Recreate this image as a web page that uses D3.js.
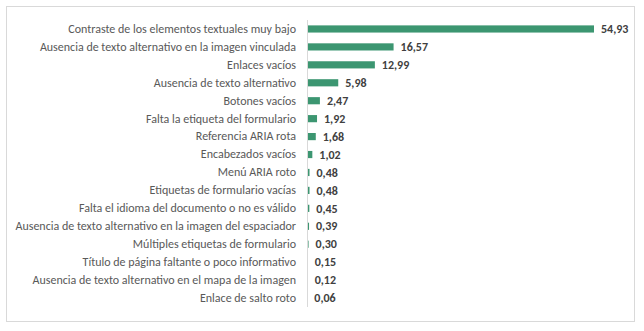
<!DOCTYPE html>
<html><head><meta charset="utf-8">
<script src="https://cdn.jsdelivr.net/npm/d3@7"></script>
<style>
body{margin:0;background:#fff;}
svg{display:block;}
</style></head>
<body><svg id="c" width="644" height="331"></svg>
<script>
const categories = [
 "Contraste de los elementos textuales muy bajo",
 "Ausencia de texto alternativo en la imagen vinculada",
 "Enlaces vacíos",
 "Ausencia de texto alternativo",
 "Botones vacíos",
 "Falta la etiqueta del formulario",
 "Referencia ARIA rota",
 "Encabezados vacíos",
 "Menú ARIA roto",
 "Etiquetas de formulario vacías",
 "Falta el idioma del documento o no es válido",
 "Ausencia de texto alternativo en la imagen del espaciador",
 "Múltiples etiquetas de formulario",
 "Título de página faltante o poco informativo",
 "Ausencia de texto alternativo en el mapa de la imagen",
 "Enlace de salto roto"
];
const values = [54.93,16.57,12.99,5.98,2.47,1.92,1.68,1.02,0.48,0.48,0.45,0.39,0.30,0.15,0.12,0.06];

const svg = d3.select("#c");
svg.append("rect").attr("x",6.5).attr("y",6.5).attr("width",628).attr("height",315)
  .attr("fill","#fff").attr("stroke","#d9d9d9");

const x0 = 307;
const x = d3.scaleLinear().domain([0,54.93]).range([x0, 594]);
const y = d3.scaleBand().domain(categories).range([20,307]).paddingInner(0.6).paddingOuter(0.3);

const font = "Calibri, Carlito, 'Liberation Sans Narrow', 'Liberation Sans', sans-serif";

svg.append("g").selectAll("rect").data(values).join("rect")
  .attr("x", x0)
  .attr("y",(d,i)=>y(categories[i]))
  .attr("width", d=>x(d)-x0)
  .attr("height", y.bandwidth())
  .attr("fill","#3c9671");

svg.append("line").attr("x1",x0+0.5).attr("x2",x0+0.5).attr("y1",20).attr("y2",307)
  .attr("stroke","#d9d9d9");

const yAxis = d3.axisLeft(y).tickSize(0).tickPadding(11);
const ga = svg.append("g").attr("transform",`translate(${x0},0)`).call(yAxis);
ga.select(".domain").remove();
ga.selectAll("text").attr("fill","#595959").style("font-family",font).style("font-size","12px");

const fmt = d3.format(".2f");
svg.append("g").selectAll("text").data(values).join("text")
  .attr("x", d=>x(d)+7)
  .attr("y",(d,i)=>y(categories[i])+y.bandwidth()/2)
  .attr("dy","0.35em")
  .attr("fill","#404040")
  .style("font-family",font).style("font-size","12px").style("font-weight","bold")
  .text(d=>fmt(d).replace(".",","));
</script></body></html>
